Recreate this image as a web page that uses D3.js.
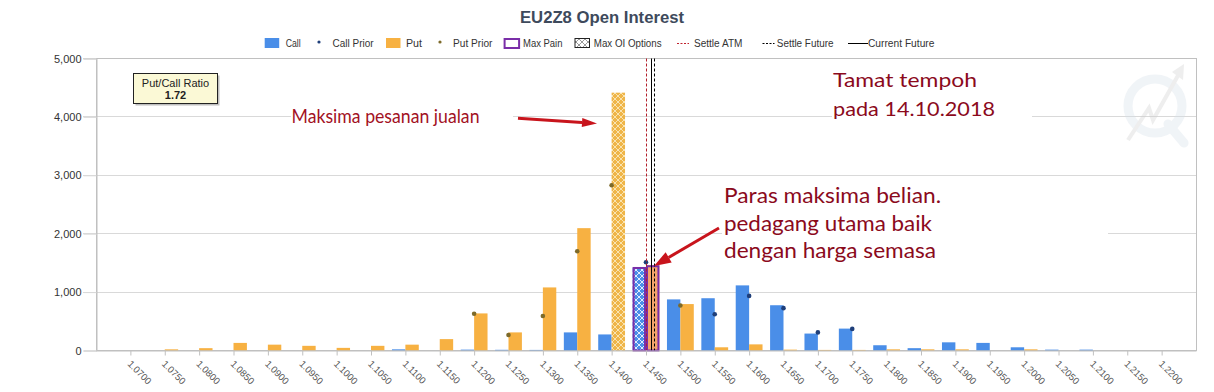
<!DOCTYPE html>
<html><head><meta charset="utf-8">
<script src="https://cdn.jsdelivr.net/npm/d3@7"></script>
<style>body{margin:0;background:#fff;} svg{display:block;}</style>
</head><body><svg id="c" width="1214" height="392"></svg>
<script>
// ---------- data ----------
const titleText = "EU2Z8 Open Interest";
const strikes = ["1.0700","1.0750","1.0800","1.0850","1.0900","1.0950","1.1000","1.1050","1.1100","1.1150",
  "1.1200","1.1250","1.1300","1.1350","1.1400","1.1450","1.1500","1.1550","1.1600","1.1650",
  "1.1700","1.1750","1.1800","1.1850","1.1900","1.1950","1.2000","1.2050","1.2100","1.2150","1.2200"];
const callOI = [0,0,0,0,0,0,0,0,20,0, 15,12,10,310,275,1430,875,895,1115,775, 290,375,90,40,140,130,55,15,15,0,0];
const putOI  = [0,20,40,130,100,80,45,80,100,195, 635,310,1080,2095,4415,1460,795,55,105,15, 10,10,20,20,20,0,20,0,0,0,0];
const callPrior = [null,null,null,null,null,null,null,null,null,null, null,null,null,null,null,1510,null,620,935,725, 310,370,null,null,null,null,null,null,null,null,null];
const putPrior  = [null,null,null,null,null,null,null,null,null,null, 630,265,590,1700,2830,null,770,null,null,null, null,null,null,null,null,null,null,null,null,null,null];
const yTickValues = [0,1000,2000,3000,4000,5000];
const maxPainStrike = "1.1450";
const settleATM = 1.1450;
const currentFuture = 1.1457;
const settleFuture = 1.1461;
const putCallRatio = "1.72";
const legendLabels = ["Call","Call Prior","Put","Put Prior","Max Pain","Max OI Options","Settle ATM","Settle Future","Current Future"];
const noteSell = "Maksima pesanan jualan";
const noteExpiry = ["Tamat tempoh","pada 14.10.2018"];
const noteBuy = ["Paras maksima belian.","pedagang utama baik","dengan harga semasa"];

// ---------- layout ----------
const C = {call:"#4a8ee8", put:"#f7b142", putPain:"#f4a46c", callPrior:"#1f3f7a", putPrior:"#7d6a2a",
  pain:"#7a2ea8", grid:"#d9d9d9", axis:"#c0c0c0", note:"#8b0a1c", note2:"#a3121f", arrow:"#c8141c"};
const L = 96, R = 1196, T = 58.5, B = 350.5;
const svg = d3.select("#c");
const x = d3.scaleLinear().domain([1.065, 1.225]).range([L, R]);
const y = d3.scaleLinear().domain([0, 5000]).range([B, T]);
const step = x(1.07) - x(1.065);
const bw = step * 0.39;
const data = strikes.map((s,i)=>({s, v:+s, call:callOI[i], put:putOI[i], cp:callPrior[i], pp:putPrior[i]}));
const iMaxCall = d3.maxIndex(callOI), iMaxPut = d3.maxIndex(putOI);

// patterns
const defs = svg.append("defs");
function hatch(id, base, line, lw){
  const p = defs.append("pattern").attr("id",id).attr("patternUnits","userSpaceOnUse").attr("width",6).attr("height",6);
  p.append("rect").attr("width",6).attr("height",6).attr("fill",base);
  p.append("path").attr("d","M0,0L6,6M6,0L0,6").attr("stroke",line).attr("stroke-width",lw);
}
hatch("hPut", "#efb548", "#f9e3b0", 1);
hatch("hCall", "#4a8ee8", "#dfeafc", 1);
hatch("hLeg", "#ffffff", "#555", 0.6);

// grid
const snap = v => Math.round(v) + 0.5;
svg.append("g").selectAll("line").data(yTickValues.filter(d=>d>0)).join("line")
  .attr("x1", 83).attr("x2", R).attr("y1", d=>snap(y(d)-0.5)).attr("y2", d=>snap(y(d)-0.5))
  .attr("stroke", C.grid).attr("stroke-width",1);
// plot border
svg.append("rect").attr("x", L+0.5).attr("y", T).attr("width", R-L).attr("height", B-T)
  .attr("fill","none").attr("stroke", C.axis);

// white backgrounds behind pasted annotations
[[291,100,222,35],[832,62,200,68],[722,180,386,92]].forEach(r=>{
  svg.append("rect").attr("x",r[0]).attr("y",r[1]).attr("width",r[2]).attr("height",r[3]).attr("fill","#fff");
});

// watermark
const wm = svg.append("g").attr("opacity",0.35);
wm.append("circle").attr("cx",1155).attr("cy",106).attr("r",27).attr("fill","none").attr("stroke","#d6e0ea").attr("stroke-width",9);
wm.append("line").attr("x1",1168).attr("y1",124).attr("x2",1184).attr("y2",143).attr("stroke","#d6e0ea").attr("stroke-width",9).attr("stroke-linecap","round");
wm.append("polyline").attr("points","1128,140 1149,108 1153,120 1180,72").attr("fill","none").attr("stroke","#cfcfcf").attr("stroke-width",4);
wm.append("path").attr("d","M1184,64 L1172,72 L1183,80 Z").attr("fill","#cfcfcf");

// bars
const bars = svg.append("g");
bars.selectAll("rect.call").data(data).join("rect").attr("class","call")
  .attr("x", d=>x(d.v)-bw).attr("width", bw)
  .attr("y", d=>y(d.call)).attr("height", d=>B-y(d.call))
  .attr("fill", (d,i)=> i===iMaxCall ? "url(#hCall)" : C.call);
bars.selectAll("rect.put").data(data).join("rect").attr("class","put")
  .attr("x", d=>x(d.v)).attr("width", bw)
  .attr("y", d=>y(d.put)).attr("height", d=>B-y(d.put))
  .attr("fill", (d,i)=> i===iMaxPut ? "url(#hPut)" : (d.s===maxPainStrike ? C.putPain : C.put));
// max pain outline
const mp = data.find(d=>d.s===maxPainStrike);
bars.append("rect").attr("x", x(mp.v)-bw+1).attr("width", bw-2).attr("y", y(mp.call)+1).attr("height", B-y(mp.call)-1)
  .attr("fill","none").attr("stroke",C.pain).attr("stroke-width",2);
bars.append("rect").attr("x", x(mp.v)+1).attr("width", bw-2).attr("y", y(mp.put)+1).attr("height", B-y(mp.put)-1)
  .attr("fill","none").attr("stroke",C.pain).attr("stroke-width",2);

// prior dots
svg.append("g").selectAll("circle").data(data.filter(d=>d.pp!=null)).join("circle")
  .attr("cx", d=>x(d.v)).attr("cy", d=>y(d.pp)).attr("r",2.3).attr("fill",C.putPrior);
svg.append("g").selectAll("circle").data(data.filter(d=>d.cp!=null)).join("circle")
  .attr("cx", d=>x(d.v)).attr("cy", d=>y(d.cp)).attr("r",2.3).attr("fill",C.callPrior);

// vertical reference lines
const vl = (v, color, dash) => svg.append("line").attr("x1", snap(x(v))).attr("x2", snap(x(v)))
  .attr("y1", T).attr("y2", B).attr("stroke", color).attr("stroke-width",1).attr("stroke-dasharray", dash);
vl(settleATM, "#b3202c", "3,2");
vl(currentFuture, "#000", null);
vl(settleFuture, "#000", "3,2");

// axes
const yAxis = d3.axisLeft(y).tickValues(yTickValues).tickFormat(d3.format(",")).tickSize(13).tickPadding(2);
const gy = svg.append("g").attr("transform",`translate(${L+0.5},0)`).call(yAxis);
gy.select(".domain").attr("stroke", C.axis);
gy.selectAll(".tick line").attr("stroke", C.grid);
gy.selectAll("text").attr("font-family","Liberation Sans, Arial, sans-serif").attr("font-size",11).attr("fill","#333");

const xAxis = d3.axisBottom(x).tickValues(data.map(d=>d.v)).tickFormat((d,i)=>strikes[i]).tickSize(5).tickSizeOuter(0);
const gx = svg.append("g").attr("transform",`translate(0,${B})`).call(xAxis);
gx.select(".domain").attr("stroke", C.axis);
gx.selectAll(".tick line").attr("stroke", C.axis);
gx.selectAll(".tick text").attr("font-family","Liberation Sans, Arial, sans-serif").attr("font-size",9.5)
  .attr("fill","#555").attr("text-anchor","start").attr("dy",null).attr("y",0).attr("x",0)
  .attr("transform","translate(-4,14) rotate(45)");

// annotations
const nf = "Lato, 'Open Sans', sans-serif";
svg.append("text").attr("x",291.5).attr("y",123.3).attr("font-family",nf).attr("font-size",18.5)
  .attr("fill",C.note2).attr("textLength",188).attr("lengthAdjust","spacingAndGlyphs").text(noteSell);
noteExpiry.forEach((t,i)=> svg.append("text").attr("x",833).attr("y",87.3+i*28.4).attr("font-family",nf)
  .attr("font-size",20).attr("fill",C.note).attr("textLength", i===0?144:162).attr("lengthAdjust","spacingAndGlyphs").text(t));
noteBuy.forEach((t,i)=> svg.append("text").attr("x",724).attr("y",203.3+i*27.5).attr("font-family",nf)
  .attr("font-size",21).attr("fill",C.note).attr("textLength", [217,208,212][i]).attr("lengthAdjust","spacingAndGlyphs").text(t));

function arrow(x1,y1,x2,y2,len,wid,sw){
  const a = Math.atan2(y2-y1,x2-x1), c=Math.cos(a), s=Math.sin(a);
  const bx = x2-len*c, by = y2-len*s;
  svg.append("line").attr("x1",x1).attr("y1",y1).attr("x2",bx).attr("y2",by).attr("stroke",C.arrow).attr("stroke-width",sw);
  svg.append("path").attr("d",`M${x2},${y2}L${bx - wid*s},${by + wid*c}L${bx + wid*s},${by - wid*c}Z`).attr("fill",C.arrow);
}
arrow(518,118.3,597,123.6,15,4.5,3);
arrow(719,228,654,266,17,6,3);

// legend
const lg = svg.append("g").attr("font-family","Liberation Sans, Arial, sans-serif").attr("font-size",10).attr("fill","#333");
const ly = 43;
const symX = [264.7,319,386,440,503.6,574.5,669,754.5,848];
const txtX = [285.7,332.6,406,453,523,593.8,694,776.8,868];
const txtW = [15,41,16,39.4,39.5,67.8,48.4,56.7,66.4];
const symW = 14.5;
legendLabels.forEach((lab,i)=>{
  const sx = symX[i];
  if(i===0||i===2) lg.append("rect").attr("x",sx).attr("y",ly-5).attr("width",symW).attr("height",10).attr("fill", i===0?C.call:C.put);
  if(i===1||i===3) lg.append("circle").attr("cx",sx).attr("cy",ly-1).attr("r",1.6).attr("fill", i===1?C.callPrior:C.putPrior);
  if(i===4) lg.append("rect").attr("x",sx+1).attr("y",ly-4).attr("width",symW).attr("height",9).attr("fill","#fff").attr("stroke",C.pain).attr("stroke-width",2);
  if(i===5) lg.append("rect").attr("x",sx+0.5).attr("y",ly-4.5).attr("width",symW).attr("height",9).attr("fill","url(#hLeg)").attr("stroke","#222").attr("stroke-width",1);
  if(i>=6) lg.append("line").attr("x1",sx+ (i===8?0:8)).attr("x2",sx+20).attr("y1",ly+0.5).attr("y2",ly+0.5)
    .attr("stroke", i===6?"#c0202c":"#000").attr("stroke-width",1).attr("stroke-dasharray", i===8?null:"2,1.5");
  lg.append("text").attr("x",txtX[i]).attr("y",ly+4).attr("textLength",txtW[i]).attr("lengthAdjust","spacingAndGlyphs").text(lab);
});

// title
svg.append("text").attr("x",602).attr("y",23).attr("text-anchor","middle")
  .attr("font-family","Liberation Sans, Arial, sans-serif").attr("font-size",16).attr("font-weight","bold")
  .attr("fill","#3e4a5c").attr("textLength",164).attr("lengthAdjust","spacingAndGlyphs").text(titleText);

// put/call ratio box
const bx = 133, by = 73, bwid = 84, bh = 30;
svg.append("rect").attr("x",bx+2.5).attr("y",by+2.5).attr("width",bwid).attr("height",bh).attr("fill","#888").attr("opacity",0.55);
svg.append("rect").attr("x",bx+0.5).attr("y",by+0.5).attr("width",bwid).attr("height",bh).attr("fill","#fbf9d6").attr("stroke","#222").attr("stroke-width",1);
svg.append("text").attr("x",bx+bwid/2+0.5).attr("y",by+14).attr("text-anchor","middle").attr("font-family","Liberation Sans, Arial, sans-serif")
  .attr("font-size",11).attr("fill","#222").text("Put/Call Ratio");
svg.append("text").attr("x",bx+bwid/2+0.5).attr("y",by+26).attr("text-anchor","middle").attr("font-family","Liberation Sans, Arial, sans-serif")
  .attr("font-size",11).attr("font-weight","bold").attr("fill","#222").text(putCallRatio);
</script></body></html>
